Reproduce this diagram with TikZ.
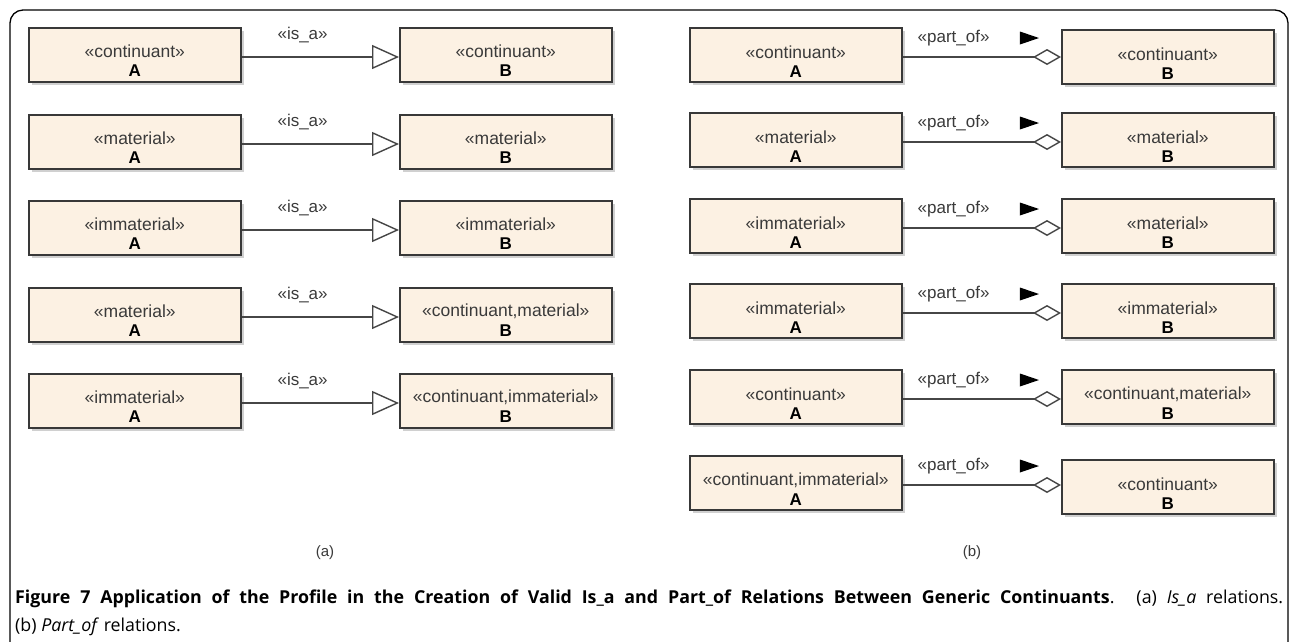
\documentclass[tikz,border=0pt]{standalone}
\usepackage{fontspec}
\setmainfont{Liberation Sans}
\newfontfamily\capfont{Open Sans}
\usetikzlibrary{arrows.meta,shapes.geometric,shadows,calc}
\definecolor{boxfill}{HTML}{FCF1E3}
\definecolor{boxdraw}{HTML}{383838}
\definecolor{linecol}{HTML}{464646}
\definecolor{txt}{HTML}{3A3A3A}
\tikzset{
  umlbox/.style={draw=boxdraw, line width=1.6pt, fill=boxfill, minimum width=212pt, minimum height=54pt, inner sep=0pt,
    drop shadow={shadow xshift=3pt, shadow yshift=-3pt, fill=black!30, opacity=0.6}},
  stereo/.style={font=\fontsize{17.5}{17.5}\selectfont, text=txt, inner sep=0pt},
  nm/.style={font=\bfseries\fontsize{17}{17}\selectfont, text=black, inner sep=0pt},
  rel/.style={font=\fontsize{17}{17}\selectfont, text=txt, inner sep=0pt},
  isa/.style={draw=linecol, line width=1.5pt, -{Triangle[open, length=27pt, width=24pt, fill=white, line width=1.4pt]}},
  partof/.style={draw=linecol, line width=1.5pt, -{Diamond[open, length=28pt, width=16pt, fill=white, line width=1.4pt]}},
  dirtri/.style={isosceles triangle, isosceles triangle stretches=true, fill=black, inner sep=0pt, minimum height=19pt, minimum width=13pt},
  frame/.style={draw=black, line width=1.3pt, rounded corners=13pt},
  sub/.style={font=\fontsize{15}{15}\selectfont, text=txt, inner sep=0pt},
}
\begin{document}
\begin{tikzpicture}[x=1pt,y=-1pt]
\useasboundingbox (0,0) rectangle (1290,641);
\clip (0,0) rectangle (1290,641);
\fill[white] (0,0) rectangle (1290,641);
\draw[frame] (10,10) rectangle (1288,700);
% (a) is_a column
\foreach \i/\t/\sa/\sb in {1/27/continuant/continuant, 2/114/material/material, 3/200/immaterial/immaterial, 4/287/material/{continuant,material}, 5/373/immaterial/{continuant,immaterial}}{
  \node[umlbox, anchor=north west] (la\i) at (28,\t) {};
  \node[umlbox, anchor=north west] (lb\i) at (399,\t) {};
  \node[stereo] (la\i s) at ($(la\i.north)+(0,24)$) {«\sa»};
  \node[nm] (la\i n) at ($(la\i.north)+(0,44)$) {A};
  \node[stereo] (lb\i s) at ($(lb\i.north)+(0,24)$) {«\sb»};
  \node[nm] (lb\i n) at ($(lb\i.north)+(0,44)$) {B};
  \coordinate (la\i c) at ($(la\i.north east)+(0,30)$);
  \coordinate (lb\i c) at ($(lb\i.north west)+(0,30)$);
  \draw[isa] (la\i c) -- (lb\i c);
  \node[rel] (la\i r) at ($(la\i.north east)+(61,8)$) {«is\_a»};
}
% (b) part_of column
\foreach \i/\t/\d/\sa/\sb in {1/27/2/continuant/continuant, 2/112/0/material/material, 3/198/0/immaterial/material, 4/283/0/immaterial/immaterial, 5/369/0/continuant/{continuant,material}, 6/455/4/{continuant,immaterial}/continuant}{
  \node[umlbox, anchor=north west] (ra\i) at (689,\t) {};
  \node[umlbox, anchor=north west] (rb\i) at (1061,\t+\d) {};
  \node[stereo] (ra\i s) at ($(ra\i.north)+(0,25)$) {«\sa»};
  \node[nm] (ra\i n) at ($(ra\i.north)+(0,45)$) {A};
  \node[stereo] (rb\i s) at ($(rb\i.north)+(0,25)$) {«\sb»};
  \node[nm] (rb\i n) at ($(rb\i.north)+(0,45)$) {B};
  \coordinate (ra\i c) at ($(ra\i.north east)+(0,30)$);
  \coordinate (rb\i c) at (rb\i.west |- ra\i c);
  \draw[partof] (ra\i c) -- (rb\i c);
  \node[rel] (ra\i r) at ($(ra\i.north east)+(51,11)$) {«part\_of»};
  \node[dirtri] (ra\i t) at ($(ra\i.north east)+(122,11)$) {};
}
\node[sub] (suba) at (325,553) {(a)};
\node[sub] (subb) at (972,553) {(b)};
\node[anchor=north west, inner sep=0pt, text width=1268pt, align=justify,
      font=\capfont\fontsize{17.8}{28}\selectfont] (cap) at (15,590)
  {\textbf{Figure 7 Application of the Profile in the Creation of Valid Is\_a and Part\_of Relations Between Generic Continuants}. (a) \textit{Is\_a} relations.\linebreak (b) \textit{Part\_of} relations.};
\end{tikzpicture}
\end{document}
